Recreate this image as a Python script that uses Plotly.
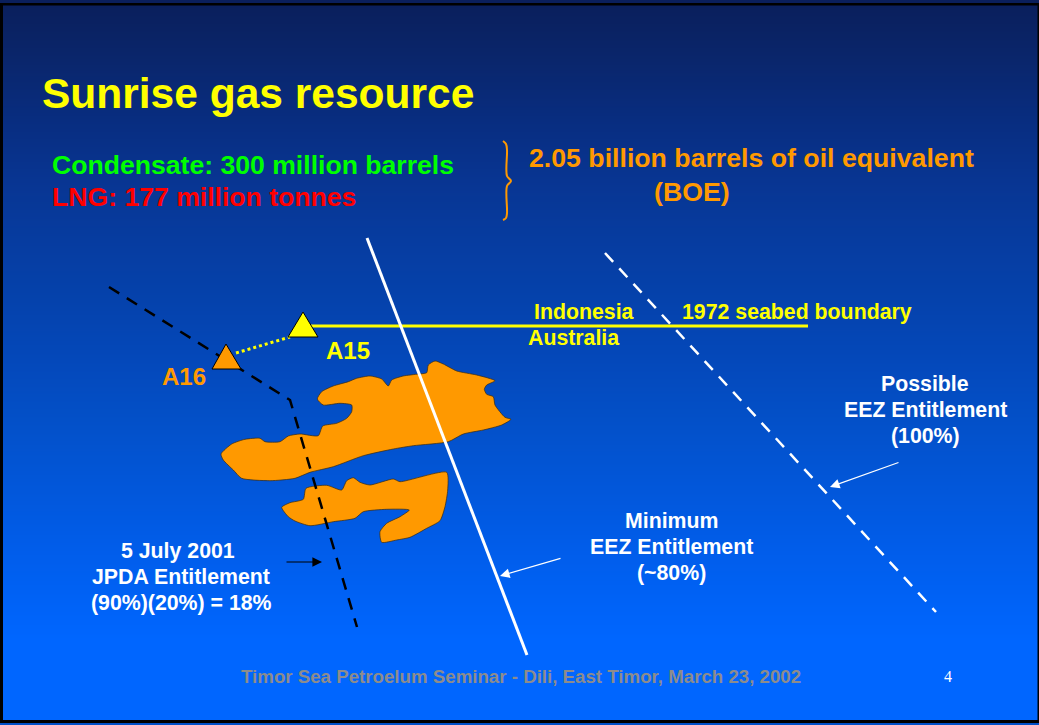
import plotly.graph_objects as go

W, H = 1039, 725
SANS = "Liberation Sans"

# background gradient, read down the slide
bg_y = [4, 60, 120, 180, 240, 300, 360, 420, 480, 540, 600, 640, 722]
bg_rgb = [[10, 31, 92], [10, 38, 108], [8, 45, 128], [8, 53, 146], [6, 60, 160], [5, 66, 172],
          [4, 72, 186], [3, 80, 200], [2, 86, 216], [1, 92, 232], [0, 98, 246], [0, 102, 255], [0, 102, 255]]

blob1_x = [317.3,321.7,333.3,348.3,356.7,370,381.7,388.3,391.7,403.3,418.3,426.7,428.3,435,443.3,456.7,476.7,495,486.7,484.3,486.7,493.3,495,505,511,501.7,483.3,463.3,448.3,413.3,393.3,363.3,333.3,310,295,270,241.7,233.3,223.3,221,231.7,245,260,265,280,288.3,300,318.3,322.7,336.7,346.7,351.7,351.7,340,323.3,317.3]
blob1_y = [399,391.7,386,381.7,378.3,376,379,386,380,376,374,372.7,365,361,364,371,375,380.7,385,389.3,394.3,396.7,405,417.3,419.3,425,430,434,441.7,445.7,449,455.7,466.7,472.3,478.3,480.7,478.3,470,460,454,444,439.3,438.3,441.7,441.7,436,434,435.7,426,423.3,418.3,411.7,405,403.3,405,399]
blob2_x = [281.7,290,303.3,306,326.7,341.7,346.7,353.3,360,370,393.3,400,446.7,447.7,445,440,426.7,410,396.7,381.7,380,386.7,400,409.3,386.7,363.3,355,333.3,310,295,288.3,281.7]
blob2_y = [507.3,502.7,499.3,488.3,485.3,490,480.7,477.7,482.3,485,479,481.7,472.3,490,506.7,520.7,528.3,537.3,540,542.3,531.7,523.3,516.7,510,509.3,511.7,518.3,521.7,525.7,521,516.7,507.3]

white_x, white_y = [367, 527], [238, 655]
dash_white_x, dash_white_y = [605, 936], [253, 612]
dash_black_x, dash_black_y = [109, 290, 357], [287, 400, 627]
boundary_x, boundary_y = [310, 808], [326, 326]
dotted_x, dotted_y = [236, 290], [353, 337]
brace_x = [503, 506, 507, 507, 511, 507, 507, 506, 503]
brace_y = [141, 144, 150, 176, 181, 186, 213, 218, 220]
tri_a15_x, tri_a15_y = [288, 318, 303, 288], [337, 337, 312, 337]
tri_a16_x, tri_a16_y = [212, 241, 226, 212], [369, 369, 344, 369]

# text, x, y, size, colour, anchor
labels = [
    ("Sunrise gas resource", 42, 93, 42.5, "#FFFF00", "left"),
    ("Condensate: 300 million barrels", 52, 165, 26.6, "#00FF00", "left"),
    ("LNG: 177 million tonnes", 52, 197, 26.6, "#FF0000", "left"),
    ("2.05 billion barrels of oil equivalent", 529, 158, 26.7, "#FF9900", "left"),
    ("(BOE)", 692, 192, 26.7, "#FF9900", "center"),
    ("Indonesia", 534, 312, 21.3, "#FFFF00", "left"),
    ("1972 seabed boundary", 682, 312, 21.3, "#FFFF00", "left"),
    ("Australia", 528, 338, 21.3, "#FFFF00", "left"),
    ("A15", 326, 350, 24, "#FFFF00", "left"),
    ("A16", 162, 376, 24, "#FF9900", "left"),
    ("Possible", 925, 384, 21.3, "#FFFFFF", "center"),
    ("EEZ Entitlement", 925, 410, 21.3, "#FFFFFF", "center"),
    ("(100%)", 925, 436, 21.3, "#FFFFFF", "center"),
    ("Minimum", 671, 521, 21.3, "#FFFFFF", "center"),
    ("EEZ Entitlement", 671, 547, 21.3, "#FFFFFF", "center"),
    ("(~80%)", 671, 573, 21.3, "#FFFFFF", "center"),
    ("5 July 2001", 178, 551, 21.3, "#FFFFFF", "center"),
    ("JPDA Entitlement", 181, 577, 21.3, "#FFFFFF", "center"),
    ("(90%)(20%) = 18%", 181, 603, 21.3, "#FFFFFF", "center"),
    ("Timor Sea Petroelum Seminar - Dili, East Timor, March 23, 2002", 241, 676, 18.7, "#8C8C8C", "left"),
]
# tail x, tail y, head x, head y, colour
arrows = [(900, 462, 830, 487, "#FFFFFF"), (562, 558, 500, 576, "#FFFFFF"), (285, 562, 322, 562, "#000000")]

fig = go.Figure()
fig.add_trace(go.Heatmap(
    x=[0, W], y=bg_y, z=[[i, i] for i in range(len(bg_y))],
    colorscale=[[i / (len(bg_rgb) - 1), f"rgb({c[0]},{c[1]},{c[2]})"] for i, c in enumerate(bg_rgb)],
    showscale=False, hoverinfo="skip", zsmooth="best"))

def poly(x, y, fill, line="#000000", lw=1, shape="linear"):
    fig.add_trace(go.Scatter(x=x, y=y, mode="lines", fill="toself", fillcolor=fill,
                             line=dict(color=line, width=lw, shape=shape, smoothing=0.6), hoverinfo="skip"))

def path(x, y, color, width, dash="solid", shape="linear"):
    fig.add_trace(go.Scatter(x=x, y=y, mode="lines", hoverinfo="skip",
                             line=dict(color=color, width=width, dash=dash, shape=shape)))

poly(blob1_x, blob1_y, "#FF9900", "#3A2A10", 0.7, "spline")
poly(blob2_x, blob2_y, "#FF9900", "#3A2A10", 0.7, "spline")
path(boundary_x, boundary_y, "#FFFF00", 3)
path(white_x, white_y, "#FFFFFF", 3)
path(dash_white_x, dash_white_y, "#FFFFFF", 2.5, "12px,9px")
path(dash_black_x, dash_black_y, "#000000", 2.5, "12px,9px")
path(dotted_x, dotted_y, "#FFFF00", 3, "3px,3px")
path(brace_x, brace_y, "#FF9900", 2, shape="spline")
poly(tri_a15_x, tri_a15_y, "#FFFF00", "#000000", 1)
poly(tri_a16_x, tri_a16_y, "#FF9900", "#000000", 1)

annotations = [dict(x=x, y=y, text=t, showarrow=False, xanchor=a, yanchor="middle", align=a,
                    xshift=-2 if a == "left" else 0,
                    font=dict(family=SANS, size=s, color=c, weight="bold"))
               for t, x, y, s, c, a in labels]
annotations.append(dict(x=948, y=676, text="4", showarrow=False,
                        font=dict(family="Liberation Serif", size=16, color="#FFFFFF")))
for tx, ty, hx, hy, c in arrows:
    annotations.append(dict(x=hx, y=hy, ax=tx, ay=ty, axref="x", ayref="y", text="", showarrow=True,
                            arrowhead=2, arrowsize=1.6, arrowwidth=1.2, arrowcolor=c))

# slide frame: left, right, top, bottom bars and the strip under the frame
def bar(x0, x1, y0, y1, c):
    return dict(type="rect", x0=x0, x1=x1, y0=y0, y1=y1, fillcolor=c, line=dict(width=0), layer="above")

shapes = [
    bar(0, 3, 3, 723, "#000000"),
    bar(1037.5, W, 3, 723, "#000000"),
    bar(0, W, 3, 5.5, "#000000"),
    bar(0, W, 720, 723, "#000000"),
    bar(0, W, 723, H, "#0050C8"),
]

fig.update_layout(
    width=W, height=H, margin=dict(l=0, r=0, t=0, b=0), showlegend=False,
    paper_bgcolor="#FFFFFF", plot_bgcolor="#FFFFFF",
    xaxis=dict(range=[0, W], visible=False, fixedrange=True),
    yaxis=dict(range=[H, 0], visible=False, fixedrange=True),
    annotations=annotations, shapes=shapes)
fig.write_html("out.html", config=dict(displayModeBar=False),
               post_script="document.body.style.margin='0';document.body.style.overflow='hidden';")
